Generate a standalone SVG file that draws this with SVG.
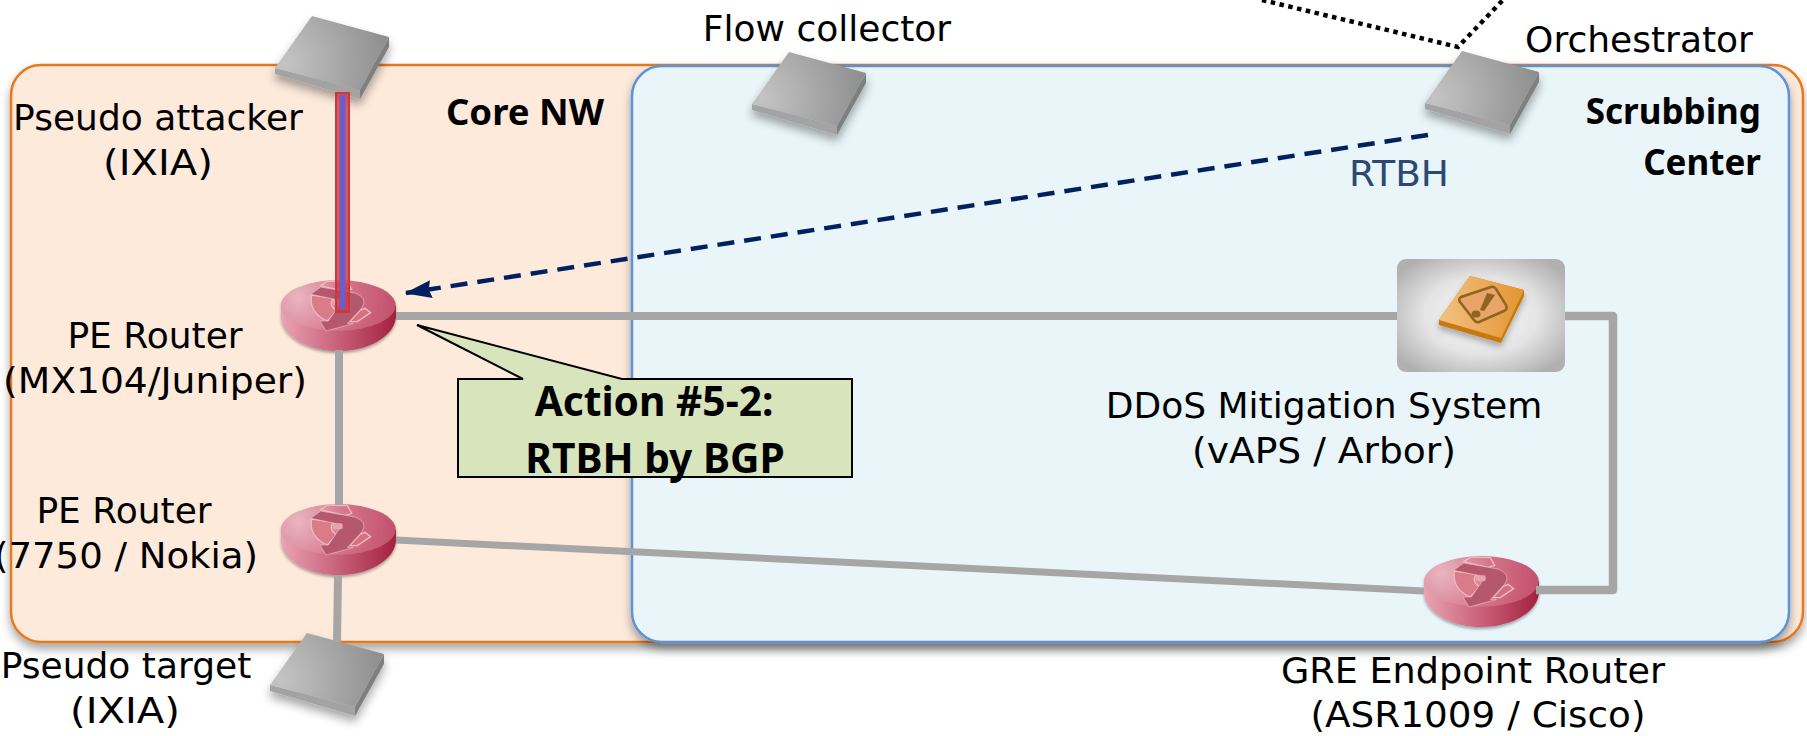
<svg xmlns="http://www.w3.org/2000/svg" xmlns:xlink="http://www.w3.org/1999/xlink" width="1807" height="736" viewBox="0 0 1807 736">
<style>
text{font-family:"DejaVu Sans","Liberation Sans",sans-serif;font-size:36px;fill:#000;text-anchor:middle}
text.b{font-family:"Noto Sans","Open Sans",sans-serif;font-weight:700;font-size:35px;text-anchor:end}
text.c{font-family:"Noto Sans","Open Sans",sans-serif;font-weight:700;font-size:40.7px}
.gl{fill:none;stroke:#a6a6a6;stroke-width:8;stroke-linejoin:round}
</style>
<defs>
<filter id="sh" x="-20%" y="-20%" width="140%" height="150%"><feDropShadow dx="0" dy="6" stdDeviation="5" flood-color="#000" flood-opacity=".35"/></filter>
<filter id="ps" x="-20%" y="-20%" width="140%" height="150%"><feDropShadow dx="0" dy="4" stdDeviation="3" flood-color="#000" flood-opacity=".3"/></filter>
<radialGradient id="srvTop" gradientUnits="userSpaceOnUse" cx="285" cy="62" r="120"><stop offset="0" stop-color="#c4c4c4"/><stop offset="1" stop-color="#868686"/></radialGradient>
<radialGradient id="rtTop" gradientUnits="userSpaceOnUse" cx="85" cy="80" r="300"><stop offset="0" stop-color="#e9b5bf"/><stop offset=".55" stop-color="#d27086"/><stop offset="1" stop-color="#c24f6b"/></radialGradient>
<linearGradient id="rtBody" x1="0" x2="1" y1="0" y2="0"><stop offset="0" stop-color="#e8a4b1"/><stop offset=".5" stop-color="#c96079"/><stop offset="1" stop-color="#a3213f"/></linearGradient>
<radialGradient id="boxG" cx=".5" cy=".5" r=".62"><stop offset="0" stop-color="#fafafa"/><stop offset=".55" stop-color="#e4e4e4"/><stop offset="1" stop-color="#b0b0b0"/></radialGradient>
<linearGradient id="tile" x1="0" x2="1" y1="0" y2="0"><stop offset="0" stop-color="#f3c283"/><stop offset="1" stop-color="#e39532"/></linearGradient>
<marker id="ah" viewBox="0 0 10 10" refX="9.5" refY="5" markerWidth="6" markerHeight="6" orient="auto-start-reverse" markerUnits="strokeWidth"><path d="M0,1.7 L10,5 L0,8.3 L1,5 Z" fill="#002060"/></marker>
<g id="server" filter="url(#sh)">
<path d="M275,68 L275,74 L360,99 L360,90 Z" fill="#a3a3a3"/>
<path d="M360,90 L360,99 L389,47 L389,37 Z" fill="#7f7f7f"/>
<path d="M312,16 L389,37 L360,90 L275,68 Z" fill="url(#srvTop)"/>
</g>
<g id="router">
<g filter="url(#sh)">
<path d="M33,103 L33,140 C40,200 120,240 205,240 C290,240 370,200 378,140 L378,103 Z" fill="url(#rtBody)"/>
<ellipse cx="205" cy="103" rx="172" ry="76" fill="url(#rtTop)"/>
</g>
<path d="M125,72 C118,105 135,135 172,150 L200,120 C178,105 180,88 195,82 Z" fill="#d97b88" stroke="#f0bcc4" stroke-width="4"/>
<path d="M152,44 L175,30 L232,32 L245,55 L225,62 Z" fill="none" stroke="#f0bcc4" stroke-width="4"/>
<path d="M270,118 L285,112 L302,125 L262,152 L240,152 Z" fill="#d4707f" stroke="#f0bcc4" stroke-width="4"/>
<path d="M122,70 L152,48 L255,66 C285,78 288,95 272,115 L232,158 L250,158 L168,180 L150,150 L175,150 L208,102 C212,92 205,86 195,85 Z" fill="#b5586e" stroke="#f0bcc4" stroke-width="2"/>
<rect x="188" y="85" width="30" height="18" rx="6" fill="#e9a5ae"/>
</g>
</defs>

<g id="core-nw">
<rect x="11" y="65" width="1792" height="577" rx="30" fill="#fdeadb" stroke="#e8781c" stroke-width="2.5" filter="url(#sh)"/>
<text class="b" x="604" y="125" style="font-size:36.5px">Core NW</text>
</g>
<g id="scrubbing-center">
<rect x="632" y="66" width="1157" height="576" rx="30" fill="#e9f5f8" stroke="#5b93d8" stroke-width="2.5" filter="url(#sh)"/>
<text class="b" x="1761" y="124">Scrubbing</text>
<text class="b" x="1761" y="175">Center</text>
</g>

<g id="pseudo-attacker">
<use href="#server"/>
<text x="158" y="130">Pseudo attacker</text>
<text x="158" y="175" textLength="110" lengthAdjust="spacingAndGlyphs">(IXIA)</text>
</g>
<g id="flow-collector">
<use href="#server" x="477" y="36"/>
<text x="827" y="41">Flow collector</text>
</g>
<g id="orchestrator">
<use href="#server" x="1150" y="35"/>
<text x="1639" y="52">Orchestrator</text>
</g>
<g id="pseudo-target">
<use href="#server" x="-5" y="617"/>
<text x="126" y="678">Pseudo target</text>
<text x="125" y="723" textLength="110" lengthAdjust="spacingAndGlyphs">(IXIA)</text>
</g>
<g id="pe-router-1">
<use href="#router" transform="translate(270,271) scale(.3333)"/>
<text x="155" y="348">PE Router</text>
<text x="155" y="393" textLength="304" lengthAdjust="spacingAndGlyphs">(MX104/Juniper)</text>
</g>
<g id="pe-router-2">
<use href="#router" transform="translate(270,495) scale(.3333)"/>
<text x="124" y="523">PE Router</text>
<text x="126" y="568" textLength="264" lengthAdjust="spacingAndGlyphs">(7750 / Nokia)</text>
</g>
<g id="gre-router">
<use href="#router" transform="translate(1413,547) scale(.3333)"/>
<text x="1473" y="683" textLength="384" lengthAdjust="spacingAndGlyphs">GRE Endpoint Router</text>
<text x="1478" y="727" textLength="335" lengthAdjust="spacingAndGlyphs">(ASR1009 / Cisco)</text>
</g>
<g id="ddos-mitigation">
<rect x="1397" y="259" width="168" height="113" rx="9" fill="url(#boxG)"/>
<path d="M1439,320 L1439,325 L1501,343 L1524,296 L1524,290 L1470,276 Z" fill="#c9780f" filter="url(#ps)"/>
<path d="M1470,276 L1524,290 L1501,338 L1439,320 Z" fill="url(#tile)"/>
<path d="M1491,287 Q1494,286 1496,289 L1506,305 Q1508,309 1504,311 L1479,322 Q1476,323 1474,320 L1460,302 Q1458,299 1461,297 Z" fill="#e9a468" stroke="#8f6420" stroke-width="2.5"/>
<path d="M1487,293 L1495,295 L1484,311 L1480,310 Z" fill="#8f6420"/>
<ellipse cx="1476" cy="314" rx="4.5" ry="3.5" fill="#8f6420"/>
<text x="1324" y="418">DDoS Mitigation System</text>
<text x="1324" y="463" textLength="264" lengthAdjust="spacingAndGlyphs">(vAPS / Arbor)</text>
</g>

<g id="connectors">
<path class="gl" d="M339,350 V505"/>
<path class="gl" d="M338,575 L337,642"/>
<path class="gl" d="M396,316 H1397"/>
<path class="gl" d="M1565,316 H1613 V590 H1536" style="stroke-width:8.5"/>
<path class="gl" d="M396,540 L1424,591" style="stroke-width:7"/>
<rect x="336" y="93" width="13" height="219" fill="#d4373e" fill-opacity=".8" stroke="#c8383c" stroke-width="2"/>
<rect x="339.5" y="95" width="6" height="214" fill="#6a5fc8"/>
<path d="M1428,135 L406,293" fill="none" stroke="#002060" stroke-width="4.5" stroke-dasharray="17 10" marker-end="url(#ah)"/>
<path d="M1262,0 L1458,47 L1503,0" fill="none" stroke="#000" stroke-width="4.5" stroke-dasharray="4.5 4.5"/>
<text x="1399" y="186" style="fill:#2a4a75" textLength="100" lengthAdjust="spacingAndGlyphs">RTBH</text>
</g>

<g id="callout">
<path d="M458,379 H523 L417,325 L622,379 H852 V477 H458 Z" fill="#d8e4bc" stroke="#000" stroke-width="2"/>
<text class="c" x="654" y="416">Action #5-2:</text>
<text class="c" x="655" y="473">RTBH by BGP</text>
</g>
</svg>
